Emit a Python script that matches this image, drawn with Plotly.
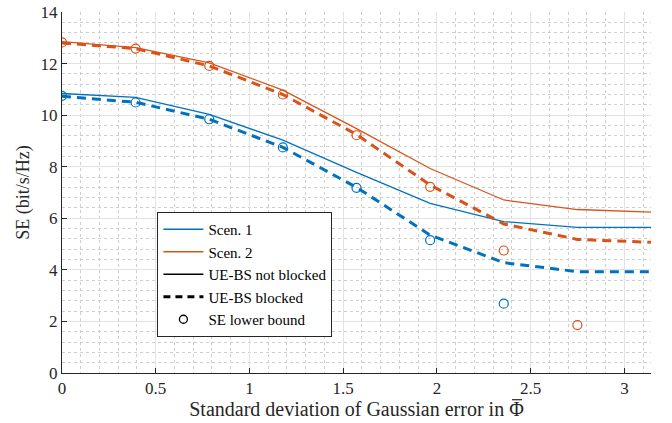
import numpy as np
import plotly.graph_objects as go

# x positions: k*pi/8
x_line = [k * np.pi / 8 for k in range(9)]
x_lb = [k * np.pi / 8 for k in range(8)]

scen1_not_blocked = [10.84, 10.69, 10.03, 9.03, 7.78, 6.58, 5.87, 5.65, 5.65]
scen1_blocked = [10.73, 10.50, 9.84, 8.75, 7.20, 5.35, 4.28, 3.93, 3.93]
scen2_not_blocked = [12.85, 12.62, 12.03, 10.97, 9.48, 7.93, 6.71, 6.34, 6.24]
scen2_blocked = [12.80, 12.58, 11.91, 10.80, 9.25, 7.29, 5.78, 5.18, 5.07]

scen1_lb = [10.75, 10.49, 9.84, 8.75, 7.18, 5.15, 2.69, None]
scen2_lb = [12.82, 12.58, 11.91, 10.80, 9.22, 7.22, 4.75, 1.86]

BLUE = "#0072BD"
ORANGE = "#D95319"
FONT = "Liberation Serif"

fig = go.Figure()

def line(y, color, dashed):
    fig.add_trace(go.Scatter(
        x=x_line, y=y, mode="lines", showlegend=False,
        line=dict(color=color, width=3 if dashed else 1.3,
                  dash="9px,6px" if dashed else "solid")))

line(scen1_not_blocked, BLUE, False)
line(scen2_not_blocked, ORANGE, False)
line(scen1_blocked, BLUE, True)
line(scen2_blocked, ORANGE, True)

for y, c in [(scen1_lb, BLUE), (scen2_lb, ORANGE)]:
    fig.add_trace(go.Scatter(
        x=x_lb, y=y, mode="markers", showlegend=False,
        marker=dict(symbol="circle-open", size=9, color=c, line=dict(width=1.2, color=c))))

# legend entries
fig.add_trace(go.Scatter(x=[None], y=[None], mode="lines", name="Scen. 1",
                         line=dict(color=BLUE, width=1.3)))
fig.add_trace(go.Scatter(x=[None], y=[None], mode="lines", name="Scen. 2",
                         line=dict(color=ORANGE, width=1.3)))
fig.add_trace(go.Scatter(x=[None], y=[None], mode="lines", name="UE-BS not blocked",
                         line=dict(color="black", width=1.3)))
fig.add_trace(go.Scatter(x=[None], y=[None], mode="lines", name="UE-BS blocked",
                         line=dict(color="black", width=3, dash="7px,5px")))
fig.add_trace(go.Scatter(x=[None], y=[None], mode="markers", name="SE lower bound",
                         marker=dict(symbol="circle-open", size=8, color="black",
                                     line=dict(width=1.3, color="black"))))

axis_common = dict(
    showline=True, linecolor="#262626", linewidth=1,
    ticks="inside", ticklen=5, tickcolor="#262626",
    showgrid=True, gridcolor="#e3e3e3", gridwidth=1,
    zeroline=False, mirror=False, automargin=False,
    tickfont=dict(family=FONT, size=17, color="#262626"),
)

fig.update_xaxes(
    range=[0, np.pi], tickvals=[0, 0.5, 1, 1.5, 2, 2.5, 3],
    ticktext=["0", "0.5", "1", "1.5", "2", "2.5", "3"],
    minor=dict(dtick=0.1, tick0=0, showgrid=True, griddash="dot",
               gridcolor="#cfcfcf", gridwidth=1, ticks=""),
    title=dict(text="Standard deviation of Gaussian error in \u03a6",
               font=dict(family=FONT, size=20, color="#262626"), standoff=1),
    **axis_common)
fig.update_yaxes(
    range=[0, 14], tickvals=[0, 2, 4, 6, 8, 10, 12, 14],
    minor=dict(dtick=0.4, tick0=0, showgrid=True, griddash="dot",
               gridcolor="#cfcfcf", gridwidth=1, ticks=""),
    title=dict(text="SE (bit/s/Hz)",
               font=dict(family=FONT, size=18, color="#262626"), standoff=6),
    **axis_common)

# overline accent on Phi in the x-axis label
fig.add_shape(type="line", xref="paper", yref="paper",
              x0=0.7640, x1=0.7810, y0=-0.0740, y1=-0.0740,
              line=dict(color="#262626", width=1.2))

fig.update_layout(
    width=672, height=423,
    margin=dict(l=62, r=21, t=12, b=50),
    plot_bgcolor="white", paper_bgcolor="white",
    legend=dict(x=0.162, y=0.446, xanchor="left", yanchor="top",
                bgcolor="white", bordercolor="#262626", borderwidth=1,
                font=dict(family=FONT, size=15, color="black"),
                tracegroupgap=0, itemwidth=40),
    showlegend=True,
)

fig.write_html("out.html")
